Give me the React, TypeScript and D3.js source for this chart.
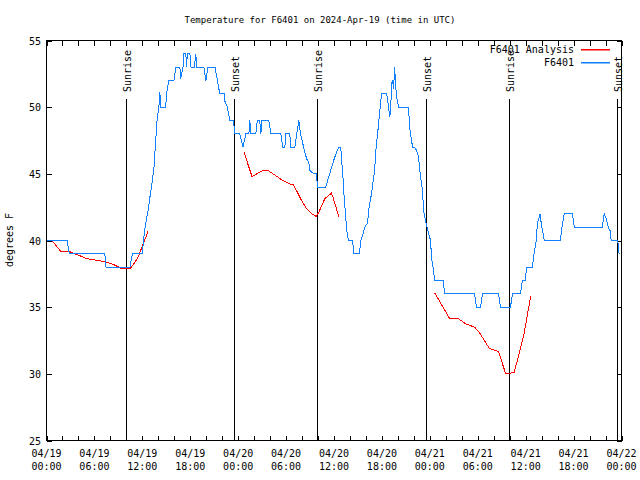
import React from "react";
import * as d3 from "d3";

const TITLE = "Temperature for F6401 on 2024-Apr-19 (time in UTC)";
const Y_LABEL = "degrees F";

const yTickValues = [25, 30, 35, 40, 45, 50, 55];
const xTickHours = [0, 6, 12, 18, 24, 30, 36, 42, 48, 54, 60, 66, 72];
const xTickDates = ["04/19", "04/19", "04/19", "04/19", "04/20", "04/20", "04/20", "04/20", "04/21", "04/21", "04/21", "04/21", "04/22"];
const xTickTimes = ["00:00", "06:00", "12:00", "18:00", "00:00", "06:00", "12:00", "18:00", "00:00", "06:00", "12:00", "18:00", "00:00"];

const sunHours = [9.97, 23.47, 33.9, 47.47, 57.95, 71.47];
const sunLabels = ["Sunrise", "Sunset", "Sunrise", "Sunset", "Sunrise", "Sunset"];

const seriesNames = ["F6401 Analysis", "F6401"];
const seriesColors = ["#ff0000", "#0f80ff"];

// Observations (hours since 2024-04-19 00:00 UTC, deg F)
const obsHours = [
  0.0, 2.6, 2.85, 7.3, 7.45, 10.45, 10.75, 12.05, 12.1, 12.35, 12.7, 12.95, 13.2, 13.46, 13.59, 13.7, 13.84, 14.1, 14.2, 14.3,
  14.9, 15.1, 15.3, 15.96, 16.2, 16.7, 16.8, 17.1, 17.2, 17.46, 17.5, 17.65, 17.96, 18.1, 18.5, 18.7, 18.8, 19.7, 19.96, 20.2,
  21.1, 21.4, 21.7, 22.25, 22.3, 22.65, 22.96, 23.4, 23.6, 24.2, 24.6, 24.96, 25.34, 25.46, 25.6, 26.2, 26.4, 26.7, 26.84, 26.96,
  27.84, 28.1, 29.34, 29.6, 29.85, 29.96, 30.46, 30.6, 31.1, 31.34, 31.6, 31.8, 32.2, 32.34, 32.6, 32.84, 32.96, 33.46, 33.84, 33.9,
  34.96, 35.2, 35.46, 35.96, 36.3, 36.6, 36.84, 36.96, 37.1, 37.2, 37.34, 37.46, 37.6, 37.7, 37.84, 38.34, 38.46, 39.2, 39.34, 39.6,
  39.84, 40.2, 40.34, 40.46, 40.7, 40.84, 41.1, 41.2, 41.46, 41.7, 41.84, 41.96, 42.6, 42.84, 42.96, 43.1, 43.2, 43.34, 43.46, 43.6,
  43.7, 43.84, 44.1, 45.34, 45.46, 45.84, 46.1, 46.34, 46.6, 46.7, 46.96, 47.1, 47.2, 47.46, 47.84, 48.1, 48.2, 48.46, 48.6, 49.7,
  49.84, 53.6, 53.84, 54.34, 54.6, 56.6, 56.84, 58.1, 58.34, 59.34, 59.6, 59.96, 60.1, 60.84, 61.1, 61.34, 61.46, 61.8, 61.96, 62.34,
  64.34, 64.6, 64.84, 65.84, 66.1, 69.6, 69.84, 70.1, 70.34, 70.6, 70.7, 71.46, 71.6, 71.7, 71.84,
];
const obsTemps = [
  40, 40, 39, 39, 38, 38, 39, 39, 39.8, 41, 42.2, 43.25, 44.25, 45.5, 46.75, 47.75, 49, 50.25, 51.1, 50,
  50, 51.25, 52, 52, 53, 53, 52.1, 53, 54, 54, 53, 54, 54, 53, 53, 54, 53, 53, 52, 53,
  53, 52, 51, 51, 50.5, 50, 49, 49, 48, 48, 47, 48, 48, 49, 48, 48, 49, 49, 48, 49,
  49, 48, 48, 47, 47, 48, 48, 47, 47, 48, 49, 48, 47, 46.6, 46.1, 45.9, 45.25, 45, 45, 44,
  44, 44.5, 45, 46, 46.6, 47, 47, 46, 45, 43.8, 42.8, 41.75, 40.75, 40.3, 40, 40, 39, 39, 40, 40.4,
  41, 41.3, 42.25, 42.75, 43.5, 44.25, 45.25, 46.5, 48, 49.5, 50.4, 51, 51, 50, 49.25, 49.75, 51.75, 52, 51.4, 53,
  51.75, 50.75, 50, 50, 48.5, 47, 47, 46.75, 46.25, 45.5, 44.25, 43.75, 42.25, 41.5, 40.5, 40, 38.75, 37.75, 37, 37,
  36, 36, 35, 35, 36, 36, 35, 35, 36, 36, 37, 37, 38, 38, 39.25, 40, 41.25, 42, 41.25, 40,
  40, 41.25, 42, 42, 41, 41, 42, 41.6, 41, 40.7, 40, 40, 39.75, 39, 39,
];

// Analysis runs
const ana1Hours = [0.75, 1.8, 2.96, 3.88, 5.1, 7.2, 8.46, 9.3, 9.93, 10.46, 11.38, 12.2, 12.75];
const ana1Temps = [39.95, 39.18, 39.15, 38.93, 38.63, 38.43, 38.18, 37.92, 37.88, 37.88, 38.63, 39.87, 40.75];
const ana2Hours = [24.73, 25.73, 27.1, 27.73, 28.35, 29.6, 30.46, 30.88, 31.3, 31.93, 32.56, 33.2, 33.8, 34.2, 34.84, 35.67, 35.87, 36.62];
const ana2Temps = [46.62, 44.8, 45.25, 45.25, 45, 44.5, 44.25, 44.18, 43.75, 43, 42.38, 42, 41.8, 42.25, 43.13, 43.55, 43.25, 41.75];
const ana3Hours = [48.6, 50.46, 51.5, 52.5, 53.6, 54.2, 55.46, 56.5, 56.7, 57.5, 58.55, 58.96, 59.8, 60.64];
const ana3Temps = [36.08, 34.17, 34.17, 33.75, 33.5, 33.1, 31.9, 31.7, 31.5, 30, 30.1, 31, 33, 35.87];

const W = 640;
const H = 480;
const L = 46.5;
const R = 621.5;
const T = 40.5;
const B = 440.5;
const FONT = "'DejaVu Sans Mono', monospace";

export default function App() {
  const x = d3.scaleLinear().domain([0, 72]).range([L, R]);
  const y = d3.scaleLinear().domain([25, 55]).range([B, T]);
  const line = d3
    .line<[number, number]>()
    .x((d) => x(d[0]))
    .y((d) => y(d[1]));
  const zip = (a: number[], b: number[]) => a.map((v, i) => [v, b[i]] as [number, number]);
  const minorHours = d3.range(0, 73, 2);
  const tk = 5;

  return (
    <svg
      width={W}
      height={H}
      style={{ position: "absolute", left: 0, top: 0, background: "#fff" }}
      fontFamily={FONT}
      fontSize={10}
    >
      <rect x={0} y={0} width={W} height={H} fill="#fff" />
      <text x={320} y={23} textAnchor="middle" fill="#000" fontSize={9}>
        {TITLE}
      </text>
      <text transform={`translate(13,240) rotate(-90)`} textAnchor="middle" fill="#000">
        {Y_LABEL}
      </text>

      {/* y ticks */}
      {yTickValues.map((v) => (
        <g key={"y" + v}>
          <line x1={L} x2={L + tk} y1={Math.round(y(v)) + 0.5} y2={Math.round(y(v)) + 0.5} stroke="#000" shapeRendering="crispEdges" />
          <line x1={R - tk} x2={R} y1={Math.round(y(v)) + 0.5} y2={Math.round(y(v)) + 0.5} stroke="#000" shapeRendering="crispEdges" />
          <text x={41} y={y(v) + 4} textAnchor="end" fill="#000">
            {v}
          </text>
        </g>
      ))}

      {/* x ticks */}
      {minorHours.map((h) => (
        <g key={"xt" + h}>
          <line x1={Math.round(x(h)) + 0.5} x2={Math.round(x(h)) + 0.5} y1={B} y2={B - tk} stroke="#000" shapeRendering="crispEdges" />
          <line x1={Math.round(x(h)) + 0.5} x2={Math.round(x(h)) + 0.5} y1={T} y2={T + tk} stroke="#000" shapeRendering="crispEdges" />
        </g>
      ))}
      {xTickHours.map((h, i) => (
        <g key={"xl" + h}>
          <text x={x(h)} y={457} textAnchor="middle" fill="#000">
            {xTickDates[i]}
          </text>
          <text x={x(h)} y={470} textAnchor="middle" fill="#000">
            {xTickTimes[i]}
          </text>
        </g>
      ))}

      {/* sunrise / sunset */}
      {sunHours.map((h, i) => (
        <g key={"sun" + i}>
          <line x1={Math.round(x(h)) + 0.5} x2={Math.round(x(h)) + 0.5} y1={99} y2={B} stroke="#000" shapeRendering="crispEdges" />
          <text transform={`translate(${Math.round(x(h)) + 5},92) rotate(-90)`} textAnchor="start" fill="#000">
            {sunLabels[i]}
          </text>
        </g>
      ))}

      {/* data */}
      {[zip(ana1Hours, ana1Temps), zip(ana2Hours, ana2Temps), zip(ana3Hours, ana3Temps)].map((seg, i) => (
        <path key={"ana" + i} d={line(seg) || ""} fill="none" stroke={seriesColors[0]} strokeWidth={1} shapeRendering="crispEdges" />
      ))}
      <path d={line(zip(obsHours, obsTemps)) || ""} fill="none" stroke={seriesColors[1]} strokeWidth={1} shapeRendering="crispEdges" />

      {/* frame */}
      <rect x={L} y={T} width={R - L} height={B - T} fill="none" stroke="#000" shapeRendering="crispEdges" />

      {/* legend */}
      {seriesNames.map((n, i) => (
        <g key={"lg" + i}>
          <text x={574} y={49 + i * 13 + 4} textAnchor="end" fill="#000">
            {n}
          </text>
          <rect x={581} y={49 + i * 13} width={29} height={1.5} style={{ fill: seriesColors[i] }} />
        </g>
      ))}
    </svg>
  );
}
